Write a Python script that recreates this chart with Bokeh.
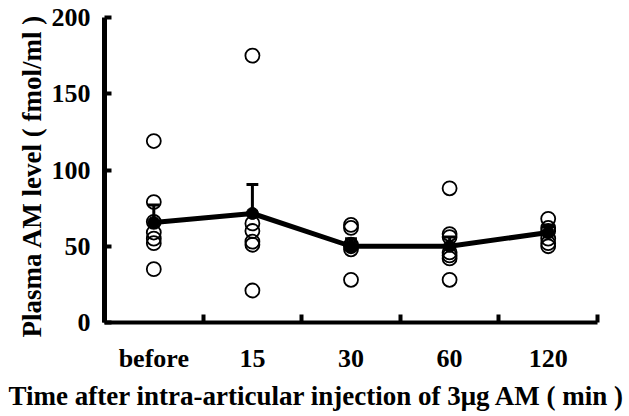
from bokeh.plotting import figure
from bokeh.models import FixedTicker, Range1d, Title
from bokeh.embed import file_html
from bokeh.resources import INLINE

categories = ["before", "15", "30", "60", "120"]
pts_before = [119, 79, 66, 59, 55, 52, 35]
pts_15 = [175, 65, 60, 53, 51, 21]
pts_30 = [64, 62, 51, 50, 48, 28]
pts_60 = [88, 58, 56, 46, 44, 42, 28]
pts_120 = [68, 62, 60, 55, 52, 50]
means = [65.6, 71.5, 50.0, 50.0, 59.0]
err_top = [77.0, 90.5, 55.0, 56.0, 63.0]
y_ticks = [0, 50, 100, 150, 200]
x_title = "Time after intra-articular injection of 3μg AM  ( min )"
y_title = "Plasma AM level ( fmol/ml )"

FONT = "Liberation Serif"
centers = [i + 0.5 for i in range(len(categories))]

p = figure(width=629, height=416, output_backend="svg", toolbar_location=None,
           x_range=Range1d(0, len(categories)), y_range=Range1d(0, 200),
           min_border_left=104, min_border_right=32, min_border_top=17, min_border_bottom=94)
p.outline_line_color = None
p.grid.visible = False
p.background_fill_color = "white"

# individual points
xs, ys = [], []
for c, pts in zip(centers, [pts_before, pts_15, pts_30, pts_60, pts_120]):
    xs += [c] * len(pts)
    ys += pts
p.scatter(xs, ys, marker="circle", size=14, fill_alpha=0, line_color="black", line_width=1.8)

# error bars
p.segment(centers, means, centers, err_top, line_color="black", line_width=3)
p.segment([c - 0.06 for c in centers], err_top, [c + 0.06 for c in centers], err_top,
          line_color="black", line_width=3)

# mean line
p.line(centers, means, line_color="black", line_width=5)
p.scatter(centers, means, marker="circle", size=12, fill_color="black", line_color="black")

# x axis
xa = p.xaxis[0]
xa.ticker = FixedTicker(ticks=centers, minor_ticks=list(range(len(categories) + 1)))
xa.major_label_overrides = {c: lab for c, lab in zip(centers, categories)}
xa.major_tick_in = 0
xa.major_tick_out = 0
xa.minor_tick_in = 8
xa.minor_tick_out = 0
xa.minor_tick_line_width = 4
xa.axis_line_width = 4
xa.major_label_standoff = 21
xa.major_label_text_font = FONT
xa.major_label_text_font_style = "bold"
xa.major_label_text_font_size = "26px"
xa.major_label_text_color = "black"

# y axis
ya = p.yaxis[0]
ya.ticker = FixedTicker(ticks=y_ticks, minor_ticks=[])
ya.major_tick_in = 7
ya.major_tick_out = 0
ya.major_tick_line_width = 4
ya.axis_line_width = 5
ya.major_label_standoff = 14
ya.major_label_text_font = FONT
ya.major_label_text_font_style = "bold"
ya.major_label_text_font_size = "26px"
ya.major_label_text_color = "black"

# axis titles as Title panels (offset lets them sit off-centre like the reference)
p.add_layout(Title(text=x_title, align="left", offset=-96, standoff=7,
                   text_font=FONT, text_font_style="bold", text_font_size="27px",
                   text_color="black"), "below")
p.add_layout(Title(text=y_title, align="left", offset=-15, standoff=4,
                   text_font=FONT, text_font_style="bold", text_font_size="27px",
                   text_color="black"), "left")

open("out.html", "w").write(file_html(p, INLINE))
